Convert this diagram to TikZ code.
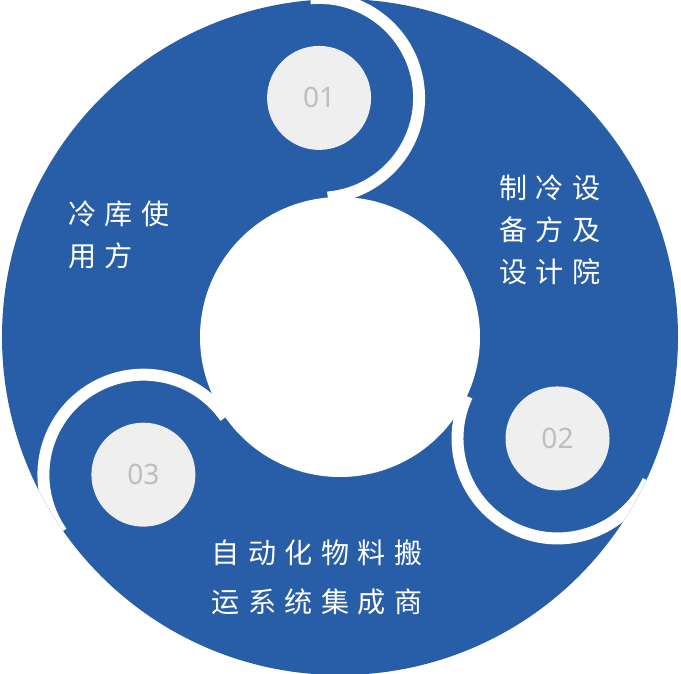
\documentclass[tikz,border=0pt]{standalone}
\usepackage{fontspec}
\newfontfamily\cjk[LetterSpace=30]{Noto Sans CJK SC}
\newfontfamily\numfont{Noto Sans}
\usepackage{tikz}
\usetikzlibrary{positioning}
\usetikzlibrary{calc}
\definecolor{ringblue}{RGB}{40,94,168}
\definecolor{badgegray}{RGB}{239,239,239}
\definecolor{numgray}{RGB}{190,190,190}
\tikzset{gap/.style={draw=white,line width=6.8pt}}
\tikzset{badge/.style={circle,fill=badgegray,minimum size=2.08cm,inner sep=0pt,text=numgray,font=\numfont\fontsize{16}{16}\selectfont}}
\tikzset{label/.style={text=white,align=left,font=\cjk\fontsize{16}{24}\selectfont}}

\begin{document}
\begin{tikzpicture}
  \useasboundingbox (0,0) rectangle (13.62,-13.48);
  \coordinate (C) at (6.8,-6.74);
  % Ring
  \fill[ringblue] (C) circle (6.76);
  \fill[white] (C) circle (2.8);
  % Heads
  \coordinate (h1) at ($(C)+(95:4.8)$);
  \coordinate (h2) at ($(C)+(-25:4.8)$);
  \coordinate (h3) at ($(C)+(-145:4.8)$);
  \begin{scope}
    \clip (C) circle (6.76);
    \foreach \h/\a in {h1/95,h2/-25,h3/-145}
      \draw[gap] (\h) ++(\a:2) arc[start angle=\a,end angle=\a-180,radius=2];
  \end{scope}
  % Badges
  \node[badge] (b1) at (h1) {01};
  \node[badge] (b2) at (h2) {02};
  \node[badge] (b3) at (h3) {03};
  % Labels
  \node[label] (user) at (2.38,-4.7) {冷库使\\用方};
  \node[label] (design) at (11.0,-4.6) {制冷设\\备方及\\设计院};
  \node[label,font=\cjk\fontsize{16}{28}\selectfont] (integ) at (6.34,-11.54) {自动化物料搬\\运系统集成商};
\end{tikzpicture}
\end{document}
